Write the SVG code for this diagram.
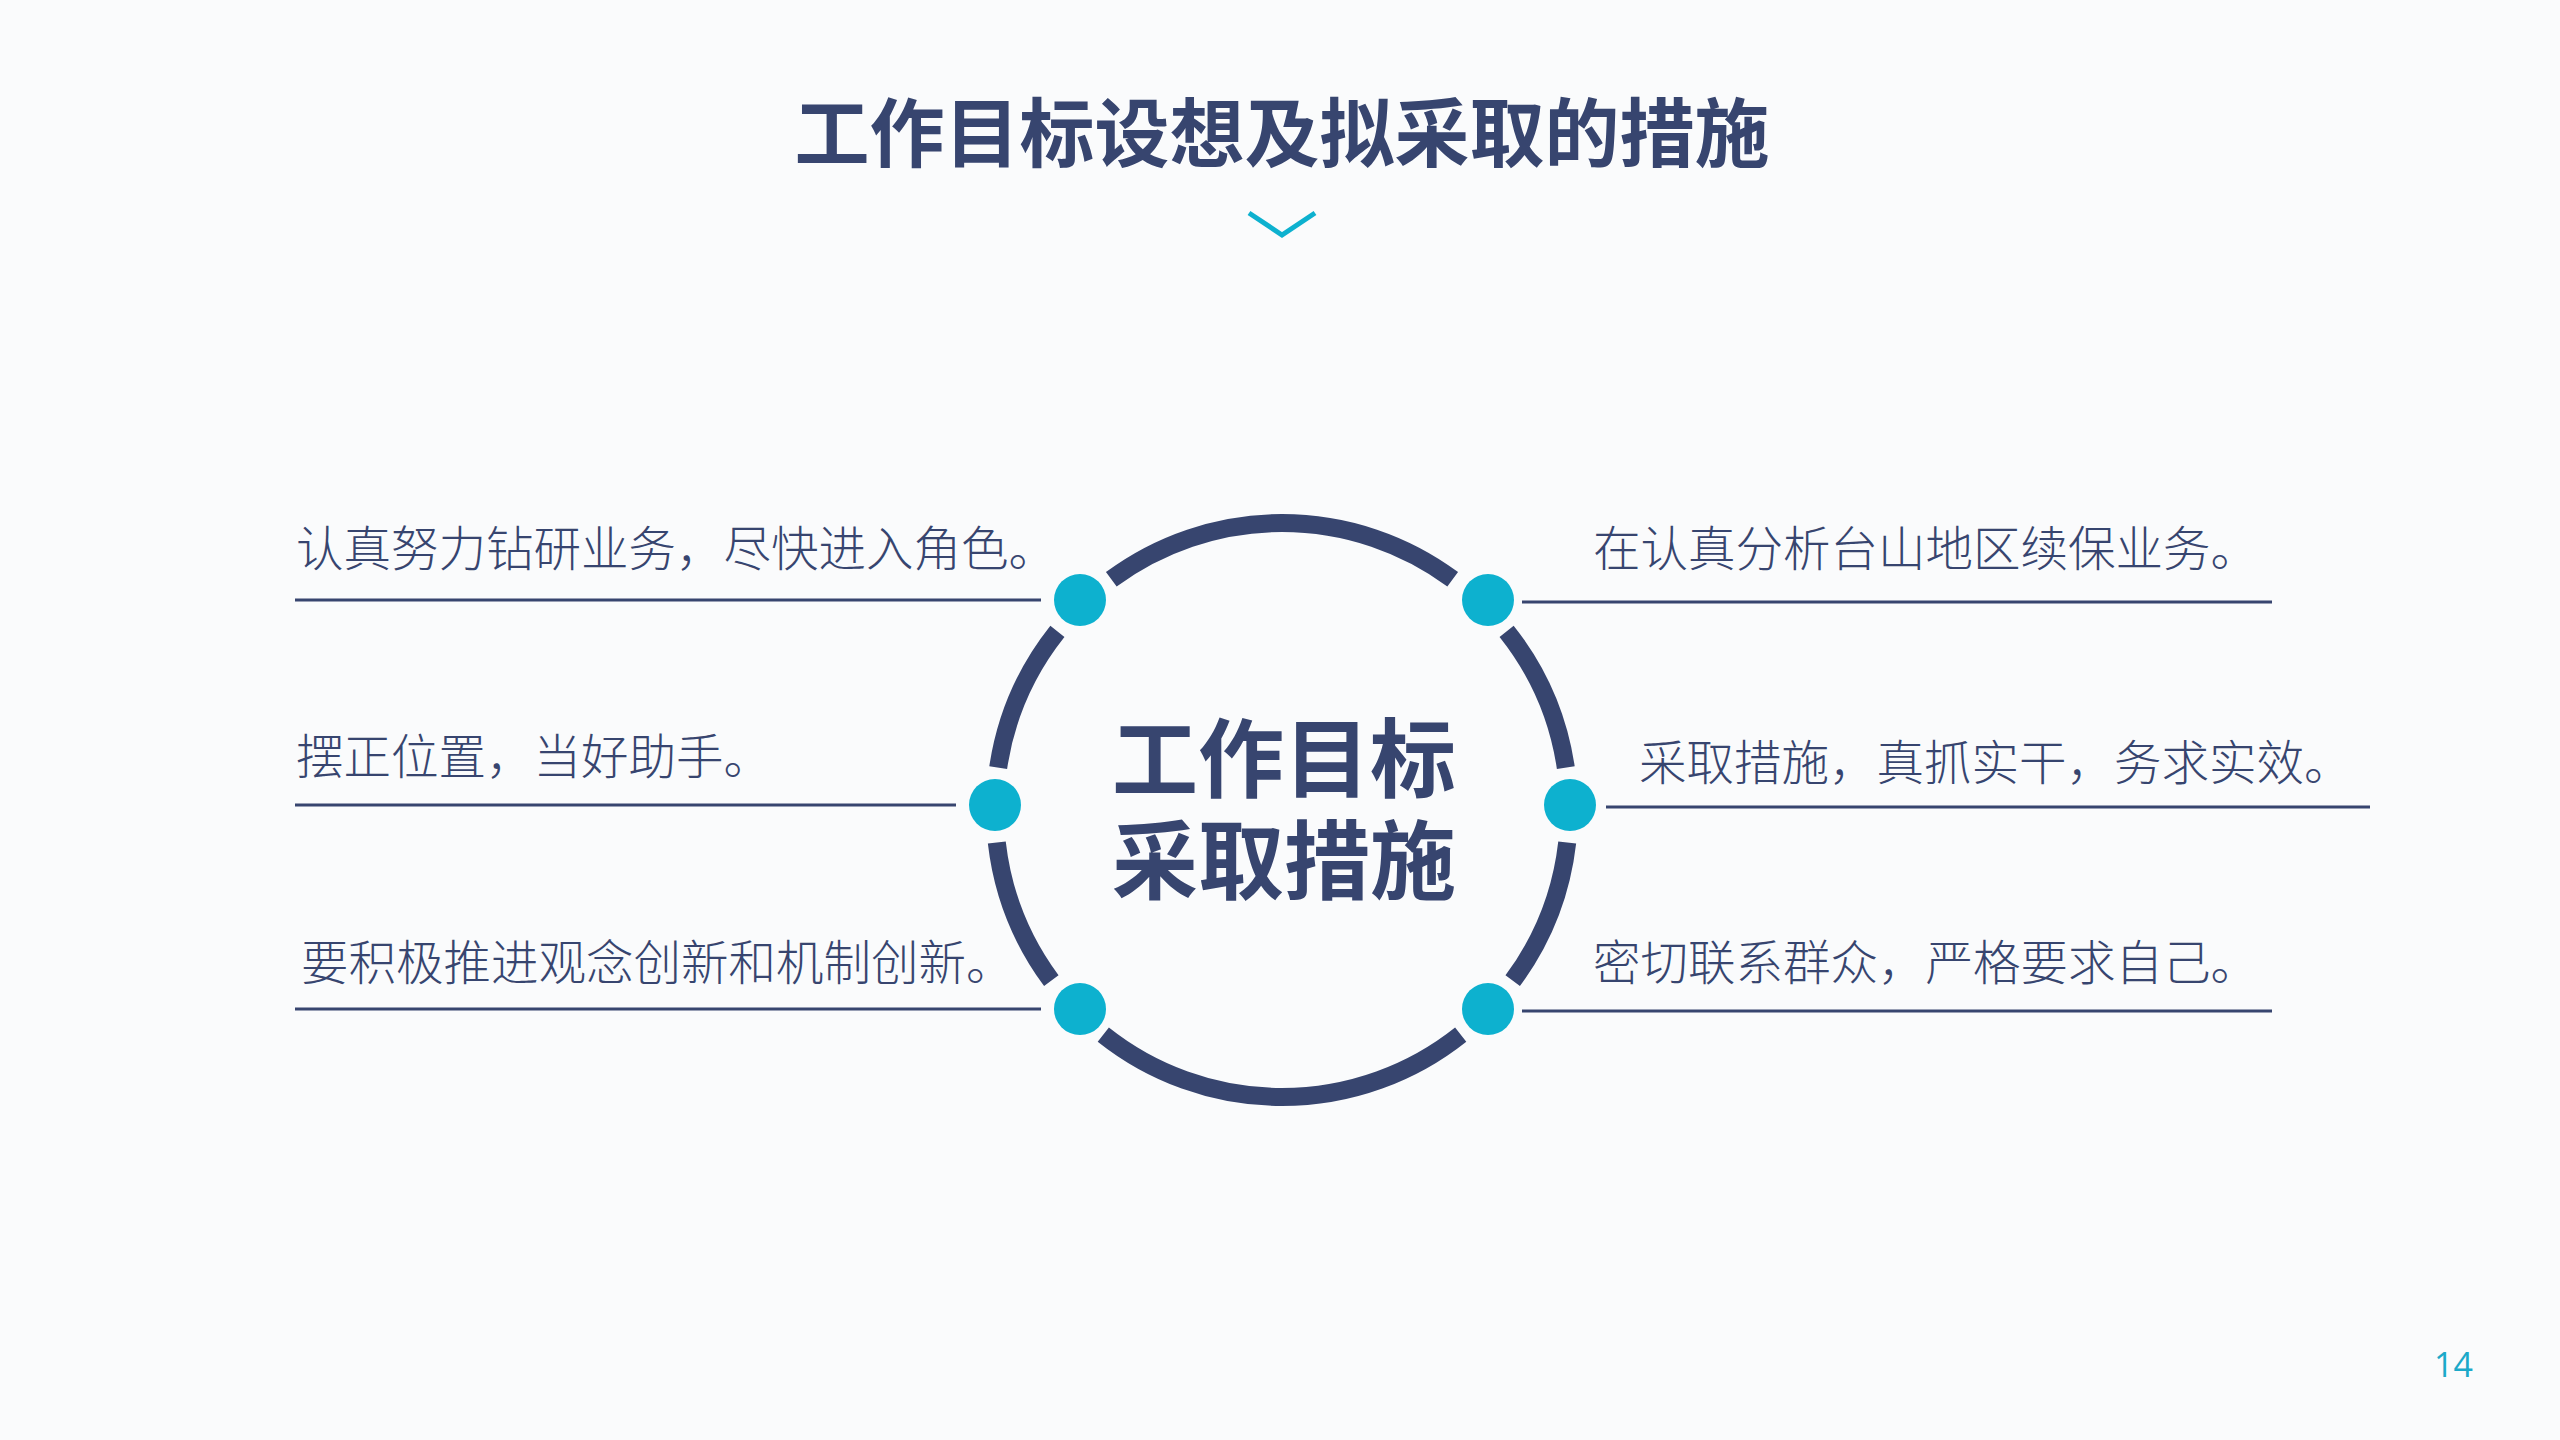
<svg xmlns="http://www.w3.org/2000/svg" width="2560" height="1440" viewBox="0 0 2560 1440">
<style>
.t{font-family:"Noto Sans CJK SC","Noto Sans",sans-serif;fill:#37456f;font-size:47.5px;font-weight:300}
.b{font-family:"Noto Sans CJK SC","Noto Sans",sans-serif;fill:#37456f;font-weight:bold}
.ln{stroke:#37456f;stroke-width:3;fill:none}
.ring{stroke:#37456f;stroke-width:18;fill:none;stroke-linecap:butt}
.dot{fill:#0db1cf}
</style>
<rect width="2560" height="1440" fill="#fafbfc"/>
<g id="title">
<text class="b" x="1282" y="161" font-size="75" text-anchor="middle">工作目标设想及拟采取的措施</text>
<polyline points="1249,213 1282,235 1315,213" fill="none" stroke="#0db1cf" stroke-width="5"/>
</g>
<g id="connectors">
<path class="ring" d="M1111.3,579.3 A287,287 0 0 1 1452.7,579.3"/>
<path class="ring" d="M1506.6,631.3 A287,287 0 0 1 1565.8,767.6"/>
<path class="ring" d="M1567.2,842.5 A287,287 0 0 1 1512.7,980.7"/>
<path class="ring" d="M1460.7,1034.6 A287,287 0 0 1 1103.3,1034.6"/>
<path class="ring" d="M1051.3,980.7 A287,287 0 0 1 996.8,842.5"/>
<path class="ring" d="M998.2,767.6 A287,287 0 0 1 1057.4,631.3"/>
<line class="ln" x1="295" y1="600" x2="1041" y2="600"/>
<line class="ln" x1="1522" y1="602" x2="2272" y2="602"/>
<line class="ln" x1="295" y1="805" x2="956" y2="805"/>
<line class="ln" x1="1606" y1="807" x2="2370" y2="807"/>
<line class="ln" x1="295" y1="1009" x2="1041" y2="1009"/>
<line class="ln" x1="1522" y1="1011" x2="2272" y2="1011"/>
</g>
<g id="center">
<text class="b" x="1284" y="791" font-size="86" text-anchor="middle">工作目标</text>
<text class="b" x="1284" y="893" font-size="86" text-anchor="middle">采取措施</text>
</g>
<g id="node-tl">
<circle class="dot" cx="1080" cy="600" r="26"/>
<text class="t" x="296" y="566">认真努力钻研业务，尽快进入角色。</text>
</g>
<g id="node-tr">
<circle class="dot" cx="1488" cy="600" r="26"/>
<text class="t" x="1593" y="566">在认真分析台山地区续保业务。</text>
</g>
<g id="node-l">
<circle class="dot" cx="995" cy="805" r="26"/>
<text class="t" x="296" y="774">摆正位置，当好助手。</text>
</g>
<g id="node-r">
<circle class="dot" cx="1570" cy="805" r="26"/>
<text class="t" x="1639" y="780">采取措施，真抓实干，务求实效。</text>
</g>
<g id="node-bl">
<circle class="dot" cx="1080" cy="1009" r="26"/>
<text class="t" x="301" y="980">要积极推进观念创新和机制创新。</text>
</g>
<g id="node-br">
<circle class="dot" cx="1488" cy="1009" r="26"/>
<text class="t" x="1593" y="980">密切联系群众，严格要求自己。</text>
</g>
<text x="2434" y="1377" font-family="Open Sans, sans-serif" font-size="34" fill="#1ba9c9">14</text>
</svg>
